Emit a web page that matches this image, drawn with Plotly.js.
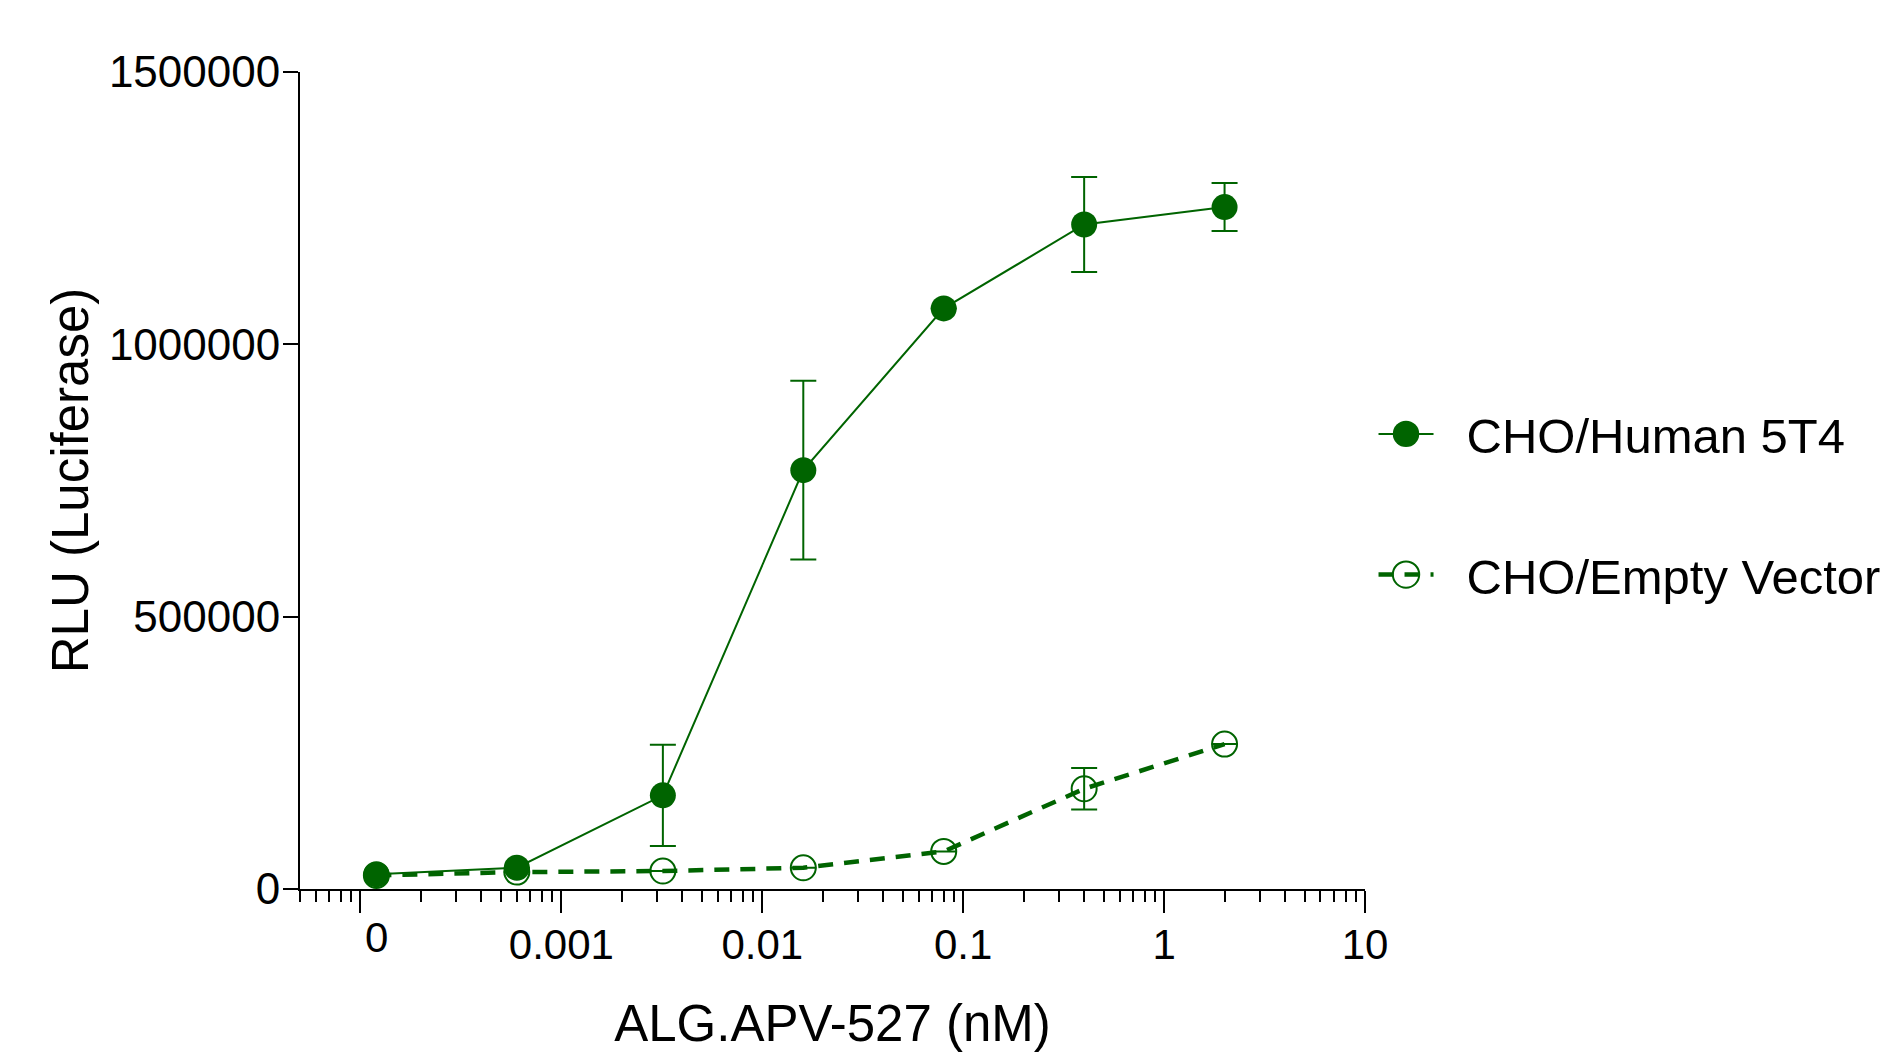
<!DOCTYPE html>
<html>
<head>
<meta charset="utf-8">
<script src="https://cdn.plot.ly/plotly-3.0.1.min.js"></script>
<style>
  html, body { margin: 0; padding: 0; background: #ffffff; }
  #chart { width: 1896px; height: 1052px; }
</style>
</head>
<body>
<div id="chart"></div>
<script>
// ---- data ----
var concentration = [0.00012, 0.0006, 0.0032, 0.016, 0.08, 0.4, 2];   // nM ("0" dose plotted at left)
var human5T4      = [27000, 39000, 172000, 769000, 1066000, 1220000, 1252000];
var human5T4Err   = [null, null, 93000, 164000, null, 87000, 44000];
var emptyVector   = [25000, 31000, 33000, 39000, 69000, 184000, 266000];
var emptyVectorErr= [null, null, null, null, null, 38000, null];

var xTickVals  = [0.0001, 0.001, 0.01, 0.1, 1, 10];
var xTickText  = ['', '0.001', '0.01', '0.1', '1', '10'];
var zeroDoseLabel = '0';
var yTickVals  = [0, 500000, 1000000, 1500000];
var seriesNames = ['CHO/Human 5T4', 'CHO/Empty Vector'];

// ---- styling ----
var green = '#006400';
var fontFamily = '"Liberation Sans", Arial, Helvetica, sans-serif';

// minor ticks 2..9 per decade inside the axis range
var xMin = 5e-5, xMax = 10;
var minorVals = [];
for (var d = -5; d <= 0; d++) {
  for (var m = 2; m <= 9; m++) {
    var v = m * Math.pow(10, d);
    if (v >= xMin * 0.999 && v <= xMax) minorVals.push(v);
  }
}

var traceEmpty = {
  x: concentration, y: emptyVector,
  name: seriesNames[1], legendgroup: 'b', legendrank: 2,
  type: 'scatter', mode: 'lines+markers',
  line: { color: green, width: 4.5, dash: '15px,11px' },
  marker: { symbol: 'circle-open', size: 25, color: green, line: { color: green, width: 2 } },
  error_y: { type: 'data', array: emptyVectorErr, visible: true, color: green, thickness: 2, width: 13 },
  hoverinfo: 'x+y'
};
var traceHuman = {
  x: concentration, y: human5T4,
  name: seriesNames[0], legendgroup: 'a', legendrank: 1,
  type: 'scatter', mode: 'lines+markers',
  line: { color: green, width: 2 },
  marker: { symbol: 'circle', size: 26, color: green },
  error_y: { type: 'data', array: human5T4Err, visible: true, color: green, thickness: 2, width: 13 },
  hoverinfo: 'x+y'
};

var layout = {
  width: 1896, height: 1052,
  margin: { l: 300, r: 531, t: 72, b: 163, pad: 0 },
  paper_bgcolor: '#ffffff', plot_bgcolor: '#ffffff',
  font: { family: fontFamily, color: '#000000', size: 44 },
  showlegend: true,
  legend: {
    x: 1.008, xanchor: 'left', y: 0.604, yanchor: 'top',
    font: { family: fontFamily, size: 49, color: '#000000' },
    itemwidth: 55, tracegroupgap: 74, traceorder: 'grouped',
    bgcolor: 'rgba(0,0,0,0)', borderwidth: 0
  },
  xaxis: {
    type: 'log',
    range: [Math.log10(xMin), Math.log10(xMax)],
    showgrid: false, zeroline: false,
    showline: true, linecolor: '#000000', linewidth: 2,
    tickmode: 'array', tickvals: xTickVals, ticktext: xTickText,
    ticks: 'outside', ticklen: 22, tickwidth: 2, tickcolor: '#000000',
    ticklabelstandoff: -4,
    tickfont: { family: fontFamily, size: 42, color: '#000000' },
    minor: { tickmode: 'array', tickvals: minorVals, ticks: 'outside', ticklen: 11, tickwidth: 2, tickcolor: '#000000', showgrid: false },
    title: { text: 'ALG.APV-527 (nM)', font: { family: fontFamily, size: 51, color: '#000000' }, standoff: 44 },
    automargin: false, fixedrange: true
  },
  yaxis: {
    range: [0, 1500000],
    showgrid: false, zeroline: false,
    showline: true, linecolor: '#000000', linewidth: 2,
    tickmode: 'array', tickvals: yTickVals, tickformat: 'd',
    ticks: 'outside', ticklen: 15, tickwidth: 2, tickcolor: '#000000',
    ticklabelstandoff: -6,
    tickfont: { family: fontFamily, size: 44, color: '#000000' },
    title: { text: 'RLU (Luciferase)', font: { family: fontFamily, size: 51, color: '#000000' }, standoff: 4 },
    automargin: false, fixedrange: true
  },
  annotations: [{
    // label of the zero-dose point, centred under the plotted point
    text: zeroDoseLabel, showarrow: false,
    xref: 'x', x: Math.log10(concentration[0]),
    yref: 'paper', y: -0.0594, yanchor: 'middle', xanchor: 'center',
    font: { family: fontFamily, size: 42, color: '#000000' }
  }]
};

Plotly.newPlot('chart', [traceEmpty, traceHuman], layout, { displayModeBar: false, staticPlot: true }).then(function (gd) {
  // enlarge legend markers to match the plotted marker size (Plotly caps legend markers at 16px)
  gd.querySelectorAll('.legend .legendpoints path.scatterpts').forEach(function (p) {
    var t = p.getAttribute('transform') || '';
    p.setAttribute('transform', t + ' scale(1.65)');
    var sw = parseFloat(p.style.strokeWidth || '0');
    if (sw > 0) p.style.strokeWidth = (sw / 1.65) + 'px';
  });
  // widen the gap between legend symbol and legend text
  gd.querySelectorAll('.legend text.legendtext').forEach(function (t) {
    var x = parseFloat(t.getAttribute('x') || '0');
    t.setAttribute('x', x + 28);
  });
  // let the shifted legend text run to the page edge, as in the reference
  gd.querySelectorAll('.legend [clip-path]').forEach(function (el) { el.removeAttribute('clip-path'); });
  var leg = gd.querySelector('.legend');
  if (leg) leg.removeAttribute('clip-path');
});
</script>
</body>
</html>
